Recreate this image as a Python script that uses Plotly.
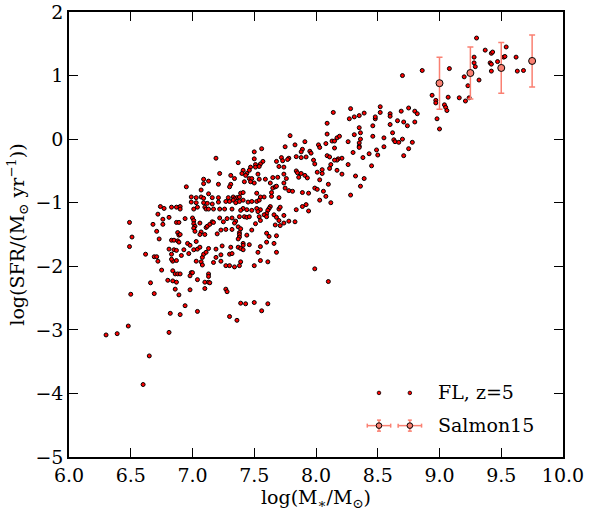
import plotly.graph_objects as go

# ---- FL simulation galaxies, z=5 : log stellar mass and log SFR ----
fl_logm = [
    7.19, 7.50, 7.50, 7.37, 7.22, 7.41, 7.40, 7.51, 7.51, 7.47, 7.46, 7.44, 7.46, 7.48, 7.50, 7.47, 7.43, 7.42, 7.31, 7.34,
    7.09, 7.13, 7.09, 6.95, 7.21, 7.31, 7.30, 7.07, 7.13, 6.99, 7.03, 7.07, 7.09, 7.16, 7.21, 7.27, 7.29, 7.33, 7.36, 7.38,
    7.34, 7.39, 7.41, 6.99, 7.03, 7.09, 7.12, 7.16, 7.21, 7.30, 7.33, 7.35, 7.38, 7.41, 7.41, 7.45, 7.48, 7.52, 7.54, 7.10,
    7.11, 7.13, 7.17, 7.22, 7.26, 7.32, 7.39, 7.44, 7.48, 7.01, 7.04, 6.74, 6.77, 6.83, 6.87, 6.90, 6.90, 6.72, 6.76, 6.81,
    6.68, 6.76, 6.49, 6.51, 6.49, 6.71, 6.73, 6.87, 6.89, 6.94, 7.00, 7.01, 7.01, 7.02, 7.01, 7.02, 7.06, 7.07, 7.11, 7.12,
    7.14, 7.16, 7.17, 7.10, 7.06, 6.88, 6.89, 6.90, 6.83, 6.85, 6.88, 6.89, 6.81, 6.85, 6.83, 6.87, 7.22, 7.25, 7.28, 7.32,
    7.35, 7.38, 7.42, 7.44, 7.46, 7.20, 7.23, 7.27, 7.32, 7.34, 7.37, 7.39, 7.38, 7.38, 7.38, 7.37, 7.44, 7.41, 7.41, 7.46,
    7.37, 7.39, 7.41, 7.48, 7.51, 7.54, 6.96, 6.98, 7.03, 6.93, 6.97, 7.01, 7.04, 7.06, 7.08, 7.09, 7.11, 7.13, 7.24, 7.19,
    7.23, 7.19, 7.31, 7.30, 7.32, 6.91, 6.87, 6.84, 6.83, 7.03, 7.07, 7.08, 7.17, 7.23, 7.27, 7.30, 7.34, 7.38, 7.39, 7.50,
    6.62, 6.69, 6.71, 6.72, 6.75, 6.84, 6.86, 6.88, 6.90, 6.99, 7.00, 6.98, 7.13, 7.13, 6.80, 6.84, 6.87, 7.04, 7.10, 7.13,
    6.66, 6.69, 6.50, 6.86, 6.89, 6.98, 7.10, 7.14, 7.27, 7.28, 6.94, 7.04, 7.39, 7.43, 7.50, 7.30, 7.36, 6.82, 6.90, 6.48,
    6.30, 6.39, 6.81, 6.65, 6.60,
    8.14, 8.28, 8.31, 8.35, 8.39, 8.27, 8.48, 8.48, 8.09, 8.46, 8.35, 8.36, 8.09, 8.31, 8.46, 8.17, 8.19, 8.13, 8.15, 7.79,
    7.91, 8.08, 8.02, 8.03, 8.26, 8.35, 8.36, 8.35, 8.35, 7.83, 7.75, 7.56, 8.15, 7.89, 7.88, 7.95, 7.96, 8.30, 8.49, 8.43,
    8.50, 8.09, 8.11, 8.21, 8.18, 8.17, 8.15, 7.84, 7.78, 7.88, 7.92, 7.72, 7.73, 7.77, 7.68, 7.57, 7.55, 7.98, 7.99, 8.38,
    8.45, 8.26, 8.12, 8.11, 8.05, 8.05, 7.74, 7.70, 7.84, 7.85, 7.86, 7.88, 7.91, 8.01, 8.17, 8.21, 8.32, 8.39, 7.74, 7.76,
    7.65, 7.69, 7.59, 7.93, 8.03, 8.10, 8.36, 7.63, 7.65, 7.67, 7.68, 7.64, 7.74, 7.75, 7.78, 7.81, 7.89, 7.94, 7.99, 8.01,
    8.06, 8.28, 7.70, 7.64, 8.08, 8.03, 7.54, 7.53, 7.54, 7.58, 7.55, 7.52,
    8.12, 7.89, 7.92, 7.84, 7.94, 7.63, 7.62, 7.61, 7.60, 7.55, 7.52, 7.53, 7.70, 7.71, 7.58, 7.60, 7.66, 7.68, 7.70, 7.74,
    7.55, 7.78, 7.74, 7.83, 7.67, 7.71, 7.60, 7.62, 7.68, 7.60, 7.66, 7.55, 7.53, 7.68, 7.55, 7.61, 7.99, 8.10, 7.61, 7.56,
    8.94, 8.97, 8.97, 9.07, 9.16, 9.21, 9.24, 9.04, 9.05, 9.06, 8.98, 9.00, 8.52, 8.52, 8.60, 8.60, 8.69, 8.75, 8.80, 8.82,
    8.66, 8.71, 8.74, 8.80, 8.60, 8.62, 8.55, 8.55, 8.63, 8.64, 8.67, 8.70, 8.78, 8.75, 8.71,
    9.30, 9.37, 9.42, 9.43, 9.54, 9.28, 9.28, 9.29, 9.41, 9.42, 9.47, 9.52, 9.53, 9.62, 9.42, 9.63, 9.68, 8.86, 9.08, 8.70,
    9.20, 9.32, 9.23,
]
fl_logsfr = [
    -0.30, -0.20, -0.31, -0.37, -0.54, -0.49, -0.54, -0.40, -0.44, -0.44, -0.49, -0.54, -0.62, -0.62, -0.69, -0.67, -0.57, -0.67, -0.57, -0.62,
    -0.63, -0.66, -0.70, -0.75, -0.71, -0.71, -0.75, -0.80, -0.86, -0.91, -0.92, -0.91, -0.93, -0.92, -0.92, -0.98, -0.92, -0.91, -0.92, -0.91,
    -0.94, -0.85, -0.84, -0.99, -1.00, -1.00, -1.01, -1.02, -0.99, -0.98, -0.96, -1.00, -0.98, -0.96, -1.09, -0.99, -0.98, -0.98, -0.96, -1.07,
    -1.10, -1.10, -1.10, -1.10, -1.10, -1.10, -1.12, -1.11, -1.12, -1.10, -1.07, -1.06, -1.09, -1.07, -1.07, -1.06, -1.10, -1.18, -1.26, -1.23,
    -1.34, -1.34, -1.31, -1.54, -1.69, -1.45, -1.57, -1.31, -1.31, -1.25, -1.24, -1.28, -1.33, -1.37, -1.40, -1.45, -1.32, -1.46, -1.39, -1.37,
    -1.34, -1.30, -1.31, -1.50, -1.50, -1.47, -1.51, -1.50, -1.59, -1.59, -1.60, -1.62, -1.73, -1.74, -1.81, -1.75, -1.24, -1.30, -1.25, -1.24,
    -1.29, -1.22, -1.22, -1.23, -1.22, -1.49, -1.43, -1.42, -1.42, -1.32, -1.38, -1.41, -1.47, -1.50, -1.54, -1.57, -1.51, -1.64, -1.67, -1.66,
    -1.70, -1.72, -1.74, -1.43, -1.33, -1.22, -1.64, -1.67, -1.61, -1.74, -1.80, -1.74, -1.73, -1.70, -1.86, -1.81, -1.78, -1.72, -1.68, -1.73,
    -1.82, -1.86, -1.70, -1.81, -1.80, -1.83, -1.91, -1.92, -1.89, -1.92, -1.93, -1.98, -1.94, -1.92, -1.99, -1.99, -2.01, -1.99, -1.93, -1.99,
    -1.81, -1.85, -1.85, -1.92, -2.06, -2.07, -2.12, -2.12, -2.12, -2.10, -2.10, -2.15, -2.12, -2.16, -2.22, -2.23, -2.25, -2.21, -2.25, -2.25,
    -2.26, -2.43, -2.44, -2.36, -2.45, -2.37, -2.35, -2.26, -2.36, -2.40, -2.62, -2.71, -2.58, -2.59, -2.57, -2.79, -2.85, -2.74, -2.76, -2.94,
    -3.08, -3.06, -3.04, -3.41, -3.86,
    0.42, 0.48, 0.35, 0.37, 0.41, 0.32, 0.32, 0.35, 0.25, 0.21, 0.18, 0.10, 0.08, 0.07, 0.045, 0.02, 0.045, -0.03, -0.03, 0.055,
    -0.04, -0.07, -0.09, -0.13, -0.04, -0.06, 0.00, -0.11, -0.13, -0.09, -0.12, -0.15, -0.14, -0.16, -0.20, -0.19, -0.22, -0.21, -0.17, -0.23,
    -0.25, -0.26, -0.28, -0.30, -0.31, -0.33, -0.33, -0.275, -0.30, -0.29, -0.28, -0.29, -0.34, -0.32, -0.35, -0.35, -0.39, -0.33, -0.39, -0.29,
    -0.42, -0.40, -0.40, -0.46, -0.48, -0.54, -0.44, -0.43, -0.50, -0.53, -0.60, -0.54, -0.57, -0.52, -0.49, -0.55, -0.58, -0.62, -0.55, -0.62,
    -0.605, -0.60, -0.63, -0.61, -0.64, -0.71, -0.74, -0.69, -0.77, -0.75, -0.74, -0.84, -0.69, -0.77, -0.81, -0.82, -0.84, -0.85, -0.77, -0.79,
    -0.82, -0.88, -0.92, -0.90, -0.90, -0.96, -0.43, -0.55, -0.63, -0.91, -0.91, -0.85,
    -1.00, -1.06, -1.03, -1.11, -1.13, -1.06, -1.09, -1.12, -1.17, -1.11, -1.09, -1.14, -1.10, -1.07, -1.19, -1.22, -1.19, -1.23, -1.28, -1.20,
    -1.28, -1.29, -1.32, -1.30, -1.35, -1.36, -1.48, -1.53, -1.52, -1.62, -1.64, -1.69, -1.78, -1.78, -1.91, -1.93, -2.04, -2.24, -2.59, -2.70,
    0.69, 0.61, 0.57, 0.66, 0.65, 0.60, 0.65, 0.54, 0.50, 0.45, 0.32, 0.16, 0.51, 0.42, 0.40, 0.36, 0.44, 0.49, 0.44, 0.40,
    0.29, 0.27, 0.21, 0.27, 0.23, 0.10, 0.02, -0.12, -0.01, -0.04, -0.05, 0.00, -0.05, -0.15, -0.26,
    1.59, 1.40, 1.35, 1.37, 1.45, 1.29, 1.20, 1.14, 1.20, 1.18, 1.22, 1.29, 1.30, 1.29, 1.07, 1.07, 1.08, 1.08, 1.11, 1.00,
    0.98, 0.93, 0.84,
]

# ---- Salmon et al. 2015 ----
salmon_logm = [9.00, 9.25, 9.50, 9.75]
salmon_logsfr = [0.88, 1.04, 1.12, 1.23]
salmon_err = [0.41, 0.41, 0.40, 0.41]

x_ticks = [6.0, 6.5, 7.0, 7.5, 8.0, 8.5, 9.0, 9.5, 10.0]
y_ticks = [-5, -4, -3, -2, -1, 0, 1, 2]

SALMON = "#FA8072"
FONT = "DejaVu Serif"

fig = go.Figure()
fig.add_trace(go.Scatter(
    x=fl_logm, y=fl_logsfr, mode="markers", name="FL, z=5", showlegend=False,
    marker=dict(size=4, color="#ff0000", line=dict(color="black", width=1)),
))
fig.add_trace(go.Scatter(
    x=salmon_logm, y=salmon_logsfr, mode="markers", name="Salmon15", showlegend=False,
    marker=dict(size=7, color=SALMON, line=dict(color="black", width=1)),
    error_y=dict(type="data", array=salmon_err, color=SALMON, thickness=1.5, width=3),
))

axis_common = dict(
    showline=True, linecolor="black", linewidth=1.5, mirror="ticks",
    ticks="inside", ticklen=9, tickwidth=1, tickcolor="black",
    showgrid=False, zeroline=False, automargin=False,
    tickfont=dict(family=FONT, size=19, color="black"),
)
fig.update_xaxes(range=[6, 10], tickvals=x_ticks, ticktext=[f"{v:.1f}" for v in x_ticks],
                 title=dict(text="log(M<sub>∗</sub>/M<sub>⊙</sub>)", font=dict(family=FONT, size=19, color="black"), standoff=2),
                 **axis_common)
fig.update_yaxes(range=[-5, 2], tickvals=y_ticks, ticktext=[("−" + str(-v)) if v < 0 else str(v) for v in y_ticks],
                 title=dict(text="log(SFR/(M<sub>⊙</sub> yr<sup>−1</sup>))", font=dict(family=FONT, size=19, color="black"), standoff=6),
                 **axis_common)

# ---- hand-drawn legend (matplotlib style, two symbols per entry) ----
W, H = 494.0, 445.0
shapes = []
def circle(px, py, r, fill, lw=1):
    shapes.append(dict(type="circle", xref="paper", yref="paper",
                       x0=px - r / W, x1=px + r / W, y0=py - r / H, y1=py + r / H,
                       fillcolor=fill, line=dict(color="black", width=lw)))
def seg(x0, y0, x1, y1, color, lw=1.5):
    shapes.append(dict(type="line", xref="paper", yref="paper", x0=x0, y0=y0, x1=x1, y1=y1,
                       line=dict(color=color, width=lw)))

for lx in (0.6275, 0.690):
    circle(lx, 0.144, 1.8, "#ff0000", 0.8)
    ly = 0.0705
    seg(lx - 11.7 / W, ly, lx + 11.7 / W, ly, SALMON)
    seg(lx, ly - 5.5 / H, lx, ly + 5.5 / H, SALMON)
    seg(lx - 11.7 / W, ly - 2 / H, lx - 11.7 / W, ly + 2 / H, SALMON)
    seg(lx + 11.7 / W, ly - 2 / H, lx + 11.7 / W, ly + 2 / H, SALMON)
    seg(lx - 2 / W, ly + 5.5 / H, lx + 2 / W, ly + 5.5 / H, SALMON)
    seg(lx - 2 / W, ly - 5.5 / H, lx + 2 / W, ly - 5.5 / H, SALMON)
    circle(lx, ly, 2.8, SALMON, 1)

annotations = [
    dict(text="FL, z=5", xref="paper", yref="paper", x=0.743, y=0.146, xanchor="left", yanchor="middle",
         showarrow=False, font=dict(family=FONT, size=19, color="black")),
    dict(text="Salmon15", xref="paper", yref="paper", x=0.743, y=0.072, xanchor="left", yanchor="middle",
         showarrow=False, font=dict(family=FONT, size=19, color="black")),
]

fig.update_layout(
    width=593, height=516,
    margin=dict(l=69, r=30, t=12, b=59),
    paper_bgcolor="white", plot_bgcolor="white",
    shapes=shapes, annotations=annotations,
    font=dict(family=FONT, size=19, color="black"),
)
fig.write_html("out.html")
